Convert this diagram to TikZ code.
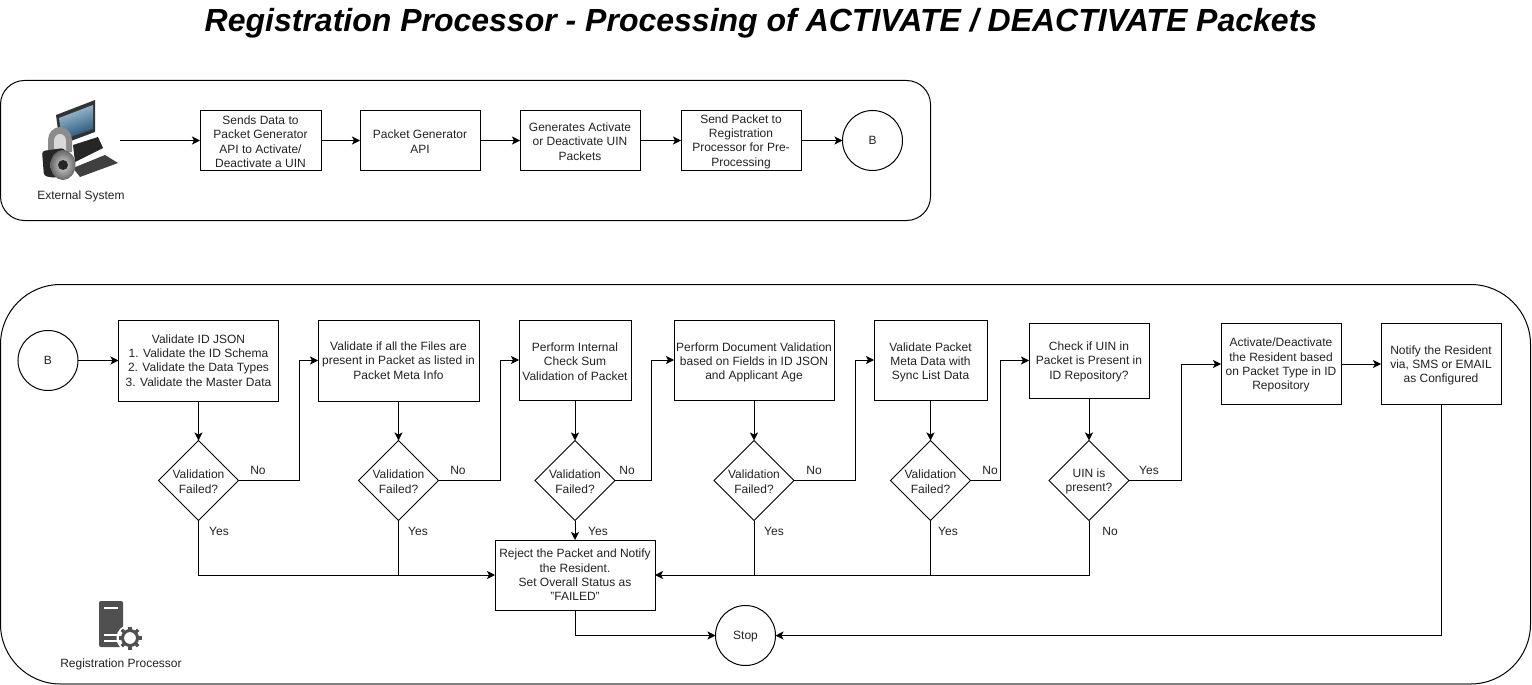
\documentclass[tikz,border=0pt]{standalone}
\usepackage{fontspec}
\setmainfont{Liberation Sans}
\usetikzlibrary{arrows.meta,shapes.geometric}
\definecolor{icongrey}{HTML}{505050}
\definecolor{textgrey}{HTML}{222222}
\definecolor{screenlight}{HTML}{A9C8DC}
\definecolor{screendark}{HTML}{1C4A70}
\newcommand{\tp}[1]{\rule{0pt}{#1}}
\tikzset{
  every node/.style={font=\fontsize{12}{14.4}\selectfont,text=textgrey,align=center,inner sep=0pt,outer sep=0pt},
  procbox/.style 2 args={draw=black,rectangle,minimum width=#1,minimum height=#2},
  decide/.style={draw=black,diamond,aspect=1,minimum width=80,minimum height=80},
  endpoint/.style={draw=black,circle,minimum size=60},
  panel/.style={draw=black,line width=1pt},
  flow/.style={-{Stealth[length=8pt,width=8pt,inset=2pt]},line width=1pt},
  plain/.style={line width=1pt},
}
\begin{document}
\begin{tikzpicture}[x=1pt,y=-1pt,line width=1pt]
  \useasboundingbox (0,0) rectangle (1532,685);
  \node[font=\fontsize{32}{38}\selectfont\bfseries\itshape,text=black] (title) at (761,23)
    {Registration Processor - Processing of ACTIVATE / DEACTIVATE Packets};
  % panels
  \draw[panel,rounded corners=24] (0.5,80.5) rectangle (930.5,220.5);
  \draw[panel,rounded corners=60] (0.5,284.5) rectangle (1530.5,684);
  \draw[black!50,line width=2pt] (60,684) -- (1470,684);
  % external system icon
  \fill[black!80] (56,115) -- (95,100) -- (95,132) -- (60,145) -- cycle;
  \shade[left color=screenlight,right color=screendark,shading angle=20] (59,118) -- (93,105) -- (93,129) -- (62,140) -- cycle;
  \fill[black!85] (73,145) -- (98,137) -- (103,148) -- (75,162) -- cycle;
  \fill[black!75] (73,168) -- (105,155) -- (118,163) -- (80,177) -- cycle;
  \fill[black!45] (48,152) -- (48,140) arc (180:360:12 and 13) -- (72,152) -- cycle;
  \fill[black!15] (54,152) -- (54,141) arc (180:360:6 and 7) -- (66,152) -- cycle;
  \fill[black!85,rounded corners=3] (42,151) -- (64,148) -- (72,165) -- (56,178) -- (44,176) -- cycle;
  \shade[inner color=black!15,outer color=black!60] (63,165) ellipse (12.5 and 15);
  \fill[black!85] (63,165) circle (5);
  \node (extlabel) at (81,196) {External System};
  % top row
  \coordinate (extout) at (120,140.5);
  \node[procbox={121}{60}] (send) at (260.5,140.5) {\tp{11pt}Sends Data to\\Packet Generator\\API to Activate/\\Deactivate a UIN};
  \node[procbox={120}{60}] (gen) at (420,140.5) {\tp{11pt}Packet Generator\\API};
  \node[procbox={120}{60}] (make) at (580,140.5) {\tp{11pt}Generates Activate\\or Deactivate UIN\\Packets};
  \node[procbox={120}{60}] (tosys) at (741,140.5) {\tp{11pt}Send Packet to\\Registration\\Processor for Pre-\\Processing};
  \node[endpoint] (b1) at (872.5,140.5) {B};
  \draw[flow] (extout) to (send);
  \draw[flow] (send) to (gen);
  \draw[flow] (gen) to (make);
  \draw[flow] (make) to (tosys);
  \draw[flow] (tosys) to (b1);
  % bottom row
  \node[endpoint] (b2) at (48,360.5) {B};
  \node[procbox={160}{81}] (idjson) at (198.5,360.5) {Validate ID JSON\\1. Validate the ID Schema\\2. Validate the Data Types\\3. Validate the Master Data};
  \node[procbox={161}{81}] (files) at (398.5,360.5) {Validate if all the Files are\\present in Packet as listed in\\Packet Meta Info};
  \node[procbox={112}{80}] (checksum) at (575,360) {\tp{11.5pt}Perform Internal\\Check Sum\\Validation of Packet};
  \node[procbox={160}{80}] (docs) at (754,360) {\tp{13.5pt}Perform Document Validation\\based on Fields in ID JSON\\and Applicant Age};
  \node[procbox={113}{80}] (sync) at (930.5,360) {\tp{13.5pt}Validate Packet\\Meta Data with\\Sync List Data};
  \node[procbox={120}{75}] (uin) at (1089,360.5) {\tp{11pt}Check if UIN in\\Packet is Present in\\ID Repository?};
  \node[procbox={120}{81}] (activate) at (1281,364) {\tp{11pt}Activate/Deactivate\\the Resident based\\on Packet Type in ID\\Repository};
  \node[procbox={120}{81}] (notify) at (1441,364) {\tp{11.5pt}Notify the Resident\\via, SMS or EMAIL\\as Configured};
  % decisions
  \node[decide] (d1) at (198.5,480.5) {\tp{11pt}Validation\\Failed?};
  \node[decide] (d2) at (398.5,480.5) {\tp{11pt}Validation\\Failed?};
  \node[decide] (d3) at (575,480.5) {\tp{11pt}Validation\\Failed?};
  \node[decide] (d4) at (754,480.5) {\tp{11pt}Validation\\Failed?};
  \node[decide] (d5) at (930.5,480.5) {\tp{11pt}Validation\\Failed?};
  \node[decide] (d6) at (1089,480.5) {\tp{11pt}UIN is\\present?};
  \node[procbox={160}{70}] (reject) at (575,575) {Reject the Packet and Notify\\the Resident.\\Set Overall Status as\\"FAILED"};
  \node[endpoint] (stop) at (745.5,635.5) {\tp{10.5pt}Stop};
  % elbows
  \coordinate (e1) at (299.5,480.5);
  \coordinate (e2) at (500.5,480.5);
  \coordinate (e3) at (651.5,480.5);
  \coordinate (e4) at (855.5,480.5);
  \coordinate (e5) at (1000.5,480.5);
  \coordinate (e6) at (1181.5,480.5);
  \coordinate (j1) at (398.5,575);
  \coordinate (j2) at (930.5,575);
  \draw[flow] (b2) to (idjson);
  \draw[flow] (idjson) to (d1);
  \draw[flow] (files) to (d2);
  \draw[flow] (checksum) to (d3);
  \draw[flow] (docs) to (d4);
  \draw[flow] (sync) to (d5);
  \draw[flow] (uin) to (d6);
  \draw[flow] (d1.east) -- (e1) |- (files.west);
  \draw[flow] (d2.east) -- (e2) |- (checksum.west);
  \draw[flow] (d3.east) -- (e3) |- (docs.west);
  \draw[flow] (d4.east) -- (e4) |- (sync.west);
  \draw[flow] (d5.east) -- (e5) |- (uin.west);
  \draw[flow] (d6.east) -- (e6) |- (activate.west);
  \draw[flow] (activate) to (notify);
  \draw[flow] (d1.south) |- (reject.west);
  \draw[plain] (d2.south) -- (j1);
  \draw[flow] (d3) to (reject);
  \draw[plain] (d4.south) -- (d4.south |- reject.east);
  \draw[flow] (d6.south) |- (reject.east);
  \draw[plain] (d5.south) -- (j2);
  \draw[flow] (reject.south) |- (stop.west);
  \draw[flow] (notify.south) |- (stop.east);
  % branch labels
  \node (n1) at (258,470.5) {No};
  \node (n2) at (458,470.5) {No};
  \node (n3) at (627,470.5) {No};
  \node (n4) at (814,470.5) {No};
  \node (n5) at (990,470.5) {No};
  \node (y6) at (1149,470.5) {Yes};
  \node (y1) at (219,531) {Yes};
  \node (y2) at (418,531) {Yes};
  \node (y3) at (598,531) {Yes};
  \node (y4) at (774,531) {Yes};
  \node (y5) at (948,531) {Yes};
  \node (n6) at (1110,531) {No};
  % registration processor icon
  \fill[icongrey,rounded corners=2] (99,601) rectangle (123,647);
  \fill[white] (104,607) rectangle (118,609);
  \fill[white] (104,634) rectangle (120,636);
  \fill[white] (104,640) rectangle (120,642);
  \fill[white] (130,638) circle (13.5);
  \foreach \a in {0,45,...,315}
    \draw[icongrey,line width=3.5pt] (130,638) ++(\a:7) -- ++(\a:4.5);
  \draw[icongrey,line width=3pt] (130,638) circle (7.5);
  \node (reglabel) at (121,664.5) {Registration Processor};
\end{tikzpicture}
\end{document}
